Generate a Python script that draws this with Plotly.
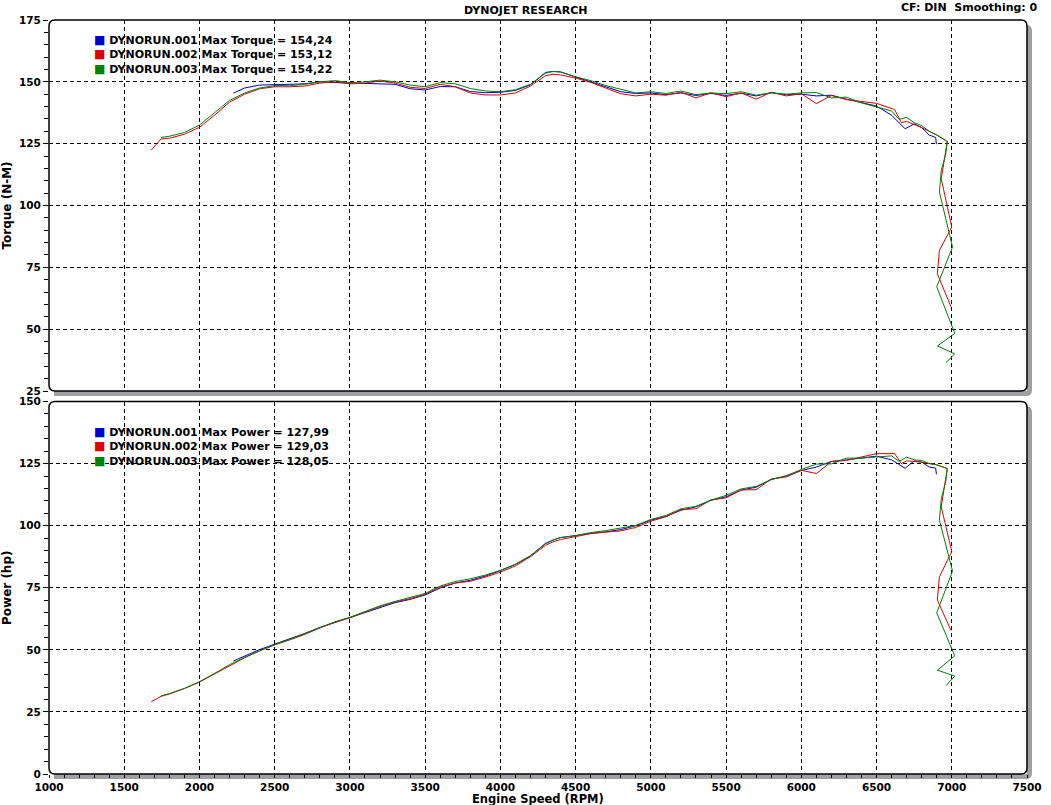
import plotly.graph_objects as go

# 运行名称、颜色和图例数值
run_names = ["DYNORUN.001", "DYNORUN.002", "DYNORUN.003"]
run_colors = ["#0000d0", "#e00000", "#008000"]
max_torque = ["154,24", "153,12", "154,22"]
max_power = ["127,99", "129,03", "128,05"]

# DYNORUN.001
rpm_001 = [2225, 2300, 2400, 2500, 2600, 2700, 2800, 2900, 3000, 3100, 3200, 3300, 3400,
           3500, 3600, 3700, 3800, 3900, 4000, 4100, 4200, 4300, 4350, 4400, 4500, 4600,
           4700, 4800, 4900, 5000, 5100, 5200, 5300, 5400, 5500, 5600, 5700, 5800, 5900,
           6000, 6100, 6200, 6300, 6400, 6500, 6600, 6690, 6750, 6800, 6850, 6893, 6898]
torque_001 = [145.4, 147.5, 148.7, 149.0, 149.0, 149.2, 150.0, 149.7, 149.5, 149.3, 149.0,
              149.0, 147.2, 146.7, 148.1, 148.0, 146.1, 145.6, 145.8, 146.5, 148.8, 153.8,
              154.2, 154.0, 152.0, 150.0, 147.8, 146.0, 145.3, 145.5, 144.8, 145.5, 144.5,
              145.3, 144.5, 145.4, 144.3, 145.6, 144.8, 145.0, 144.3, 144.6, 143.0, 141.5,
              140.2, 136.5, 131.0, 133.0, 131.5, 128.5, 127.5, 124.8]
power_001 = [45.5, 47.6, 50.1, 52.3, 54.4, 56.6, 59.0, 61.0, 63.0, 65.0, 67.0, 69.0, 70.3,
             72.1, 74.9, 76.9, 78.0, 79.7, 81.9, 84.4, 87.8, 92.9, 94.2, 95.2, 96.0, 96.9,
             97.5, 98.4, 100.0, 102.2, 103.7, 106.2, 107.6, 110.2, 111.6, 114.3, 115.5,
             118.6, 120.0, 122.2, 123.6, 125.9, 126.5, 127.2, 128.0, 126.5, 123.1, 126.1,
             125.6, 123.6, 123.2, 120.7]

# DYNORUN.002
rpm_002 = [1680, 1745, 1800, 1900, 2000, 2100, 2200, 2300, 2400, 2500, 2600, 2700, 2800,
           2900, 3000, 3100, 3200, 3300, 3400, 3500, 3600, 3700, 3800, 3900, 4000, 4100,
           4200, 4300, 4350, 4400, 4500, 4600, 4700, 4800, 4900, 5000, 5100, 5200, 5300,
           5400, 5500, 5600, 5700, 5800, 5900, 6000, 6100, 6200, 6300, 6400, 6500, 6620,
           6665, 6700, 6800, 6900, 6970, 6930, 7000, 6918, 6904, 6995]
torque_002 = [122.5, 126.9, 127.2, 128.8, 131.6, 136.5, 141.8, 145.0, 147.2, 148.0, 148.0,
              148.3, 149.5, 150.0, 149.2, 149.5, 150.3, 149.5, 147.8, 147.3, 149.0, 148.0,
              145.5, 144.7, 144.7, 145.5, 148.3, 152.5, 153.1, 152.8, 151.5, 149.8, 147.5,
              145.2, 144.3, 145.0, 144.6, 145.8, 143.5, 145.6, 144.0, 145.5, 143.0, 145.8,
              144.3, 145.2, 141.2, 144.5, 142.8, 142.0, 141.3, 138.8, 133.5, 134.0, 131.5,
              128.5, 125.9, 110.8, 91.3, 81.9, 72.4, 59.0]
power_002 = [29.1, 31.3, 32.2, 34.4, 37.0, 40.3, 43.8, 46.8, 49.6, 52.0, 54.0, 56.2, 58.8,
             61.1, 62.9, 65.1, 67.5, 69.3, 70.6, 72.4, 75.3, 76.9, 77.6, 79.3, 81.3, 83.8,
             87.5, 92.1, 93.5, 94.4, 95.7, 96.8, 97.4, 97.9, 99.3, 101.8, 103.6, 106.5,
             106.8, 110.4, 111.2, 114.4, 114.5, 118.8, 119.6, 122.3, 121.0, 125.8, 126.3,
             127.6, 129.0, 129.0, 125.0, 126.1, 125.6, 124.5, 123.0, 107.6, 89.6, 79.4,
             70.1, 57.8]

# DYNORUN.003
rpm_003 = [1745, 1800, 1900, 2000, 2100, 2200, 2300, 2400, 2500, 2600, 2700, 2800, 2900,
           3000, 3100, 3200, 3300, 3400, 3500, 3600, 3700, 3800, 3900, 4000, 4100, 4200,
           4300, 4350, 4400, 4500, 4600, 4700, 4800, 4900, 5000, 5100, 5200, 5300, 5400,
           5500, 5600, 5700, 5800, 5900, 6000, 6100, 6200, 6300, 6400, 6500, 6600, 6650,
           6700, 6750, 6800, 6850, 6900, 6970, 6960, 6930, 6918, 7005, 6900, 7020, 6905,
           7020, 6962]
torque_003 = [127.5, 128.0, 129.5, 132.5, 137.5, 142.5, 145.5, 147.5, 148.5, 148.4, 149.0,
              150.0, 150.5, 149.7, 150.0, 150.7, 150.0, 148.7, 148.0, 149.7, 149.2, 147.3,
              146.3, 146.0, 146.8, 149.0, 153.5, 154.2, 154.0, 152.0, 150.5, 148.5, 147.0,
              145.5, 146.0, 145.3, 146.3, 144.8, 145.5, 145.2, 146.0, 144.6, 145.6, 145.0,
              145.5, 145.7, 143.5, 143.8, 141.5, 139.8, 138.2, 134.8, 135.6, 133.5, 132.3,
              130.0, 128.5, 125.9, 120.8, 114.1, 105.4, 83.2, 67.1, 48.3, 43.2, 40.0, 36.5]
power_003 = [31.5, 32.4, 34.5, 37.2, 40.5, 44.0, 47.0, 49.7, 52.1, 54.2, 56.5, 59.0, 61.3,
             63.1, 65.3, 67.7, 69.5, 71.0, 72.7, 75.7, 77.5, 78.6, 80.1, 82.0, 84.5, 87.9,
             92.7, 94.2, 95.2, 96.0, 97.2, 98.0, 99.1, 100.1, 102.5, 104.1, 106.8, 107.8,
             110.3, 112.2, 114.8, 115.8, 118.6, 120.1, 122.6, 124.8, 124.9, 127.2, 127.2,
             127.6, 128.1, 125.9, 127.6, 126.5, 126.3, 125.0, 124.5, 123.0, 117.8, 110.8,
             102.2, 81.7, 64.9, 47.6, 41.8, 39.4, 35.6]

runs = [(rpm_001, torque_001, power_001),
        (rpm_002, torque_002, power_002),
        (rpm_003, torque_003, power_003)]

# 页面尺寸与边距（像素）
W, H = 1051, 805
ML, MR, MT, MB = 49, 24, 20, 31
PW, PH = W - ML - MR, H - MT - MB


def px_x(px):
    """像素 x -> 纸面坐标"""
    return (px - ML) / PW


def px_y(py):
    """像素 y -> 纸面坐标"""
    return (H - MB - py) / PH


TOP_BOX = (49, 20, 1027, 391)        # 左, 上, 右, 下
BOT_BOX = (49, 401.5, 1027, 774)

FONT = "DejaVu Sans, Verdana, sans-serif"


def rounded_path(box, r=6):
    """圆角矩形路径（纸面坐标）"""
    l, t, rt, b = box
    rx, ry = r / PW, r / PH
    x0, x1 = px_x(l), px_x(rt)
    y0, y1 = px_y(b), px_y(t)
    return (f"M {x0 + rx},{y1} L {x1 - rx},{y1} Q {x1},{y1} {x1},{y1 - ry} "
            f"L {x1},{y0 + ry} Q {x1},{y0} {x1 - rx},{y0} L {x0 + rx},{y0} "
            f"Q {x0},{y0} {x0},{y0 + ry} L {x0},{y1 - ry} Q {x0},{y1} {x0 + rx},{y1} Z")


def shadow_path(box, d=5, r=6):
    """右下方阴影（L形）"""
    l, t, rt, b = box
    p = f"M {px_x(l + d)},{px_y(b)} L {px_x(l + d)},{px_y(b + d)} "
    p += f"L {px_x(rt + d - r)},{px_y(b + d)} "
    p += f"Q {px_x(rt + d)},{px_y(b + d)} {px_x(rt + d)},{px_y(b + d - r)} "
    p += f"L {px_x(rt + d)},{px_y(t + d + r)} Q {px_x(rt + d)},{px_y(t + d)} {px_x(rt)},{px_y(t + d)} "
    p += f"L {px_x(rt)},{px_y(b)} Z"
    return p


fig = go.Figure()

for name, color, (rpm, tq, pw) in zip(run_names, run_colors, runs):
    fig.add_trace(go.Scatter(x=rpm, y=tq, mode="lines", name=name,
                             line=dict(color=color, width=1),
                             xaxis="x", yaxis="y", showlegend=False))
    fig.add_trace(go.Scatter(x=rpm, y=pw, mode="lines", name=name,
                             line=dict(color=color, width=1),
                             xaxis="x2", yaxis="y2", showlegend=False))

grid = dict(showgrid=True, gridcolor="black", gridwidth=1, griddash="4px,3px",
            zeroline=False, showline=False)
tick_font = dict(family=FONT, size=10.5, color="black", weight="bold")
title_font = dict(family=FONT, size=12, color="black", weight="bold")

fig.update_layout(
    width=W, height=H,
    margin=dict(l=ML, r=MR, t=MT, b=MB, autoexpand=False),
    paper_bgcolor="white", plot_bgcolor="white",
    font=dict(family=FONT, color="black"),
    showlegend=False,
    xaxis=dict(domain=[0, 1], range=[1000, 7500], tick0=1000, dtick=500, anchor="y",
               showticklabels=False, ticks="", **grid),
    yaxis=dict(domain=[px_y(TOP_BOX[3]), 1], range=[25, 175], tick0=25, dtick=25,
               anchor="x", ticks="outside", ticklen=5, tickcolor="black",
               tickfont=tick_font,
               minor=dict(dtick=5, ticks="outside", ticklen=4, tickcolor="black",
                          showgrid=False),
               title=dict(text="Torque (N-M)", font=title_font, standoff=10), **grid),
    xaxis2=dict(domain=[0, 1], range=[1000, 7500], tick0=1000, dtick=500, anchor="y2",
                ticks="outside", ticklen=3, tickcolor="black", tickfont=tick_font,
                minor=dict(dtick=100, ticks="outside", ticklen=3, tickcolor="black",
                           showgrid=False), **grid),
    yaxis2=dict(domain=[0, px_y(BOT_BOX[1])], range=[0, 150], tick0=0, dtick=25,
                anchor="x2", ticks="outside", ticklen=5, tickcolor="black",
                tickfont=tick_font,
                minor=dict(dtick=5, ticks="outside", ticklen=4, tickcolor="black",
                           showgrid=False),
                title=dict(text="Power (hp)", font=title_font, standoff=10), **grid),
)

# 面板阴影与圆角边框
shapes = []
for box in (TOP_BOX, BOT_BOX):
    shapes.append(dict(type="path", path=shadow_path(box), xref="paper", yref="paper",
                       fillcolor="#a0a0a4", line=dict(width=0), layer="below"))
for box in (TOP_BOX, BOT_BOX):
    shapes.append(dict(type="path", path=rounded_path(box), xref="paper", yref="paper",
                       fillcolor="rgba(0,0,0,0)", line=dict(color="black", width=1.5),
                       layer="above"))
fig.update_layout(shapes=shapes)


# 图例文字（带色块）
def legend_text(label, values):
    rows = []
    for name, color, v in zip(run_names, run_colors, values):
        rows.append(f'<span style="color:{color};font-size:12px">■</span> '
                    f'{name} Max {label} = {v}')
    return "<br>".join(rows)


legend_font = dict(family=FONT, size=11, color="black", weight="bold")
fig.add_annotation(text=legend_text("Torque", max_torque), xref="paper", yref="paper",
                   x=px_x(92), y=px_y(31), xanchor="left", yanchor="top",
                   align="left", showarrow=False, font=legend_font)
fig.add_annotation(text=legend_text("Power", max_power), xref="paper", yref="paper",
                   x=px_x(92), y=px_y(423), xanchor="left", yanchor="top",
                   align="left", showarrow=False, font=legend_font)

# 顶部标题与横轴标题
fig.add_annotation(text="DYNOJET RESEARCH", xref="paper", yref="paper",
                   x=px_x(525), y=px_y(10), xanchor="center", yanchor="middle",
                   showarrow=False, font=legend_font)
fig.add_annotation(text="CF: DIN\u00a0\u00a0Smoothing: 0", xref="paper", yref="paper",
                   x=px_x(1040), y=px_y(8), xanchor="right", yanchor="middle",
                   showarrow=False, font=legend_font)
fig.add_annotation(text="Engine Speed (RPM)", xref="paper", yref="paper",
                   x=px_x(538), y=px_y(798.5), xanchor="center", yanchor="middle",
                   showarrow=False, font=dict(family=FONT, size=11.5, color="black",
                                              weight="bold"))

# 去掉页面 body 的默认外边距，让图正好铺满窗口；不显示工具栏
fig.write_html("out.html", config={"displayModeBar": False},
               post_script="document.body.style.margin='0';")
